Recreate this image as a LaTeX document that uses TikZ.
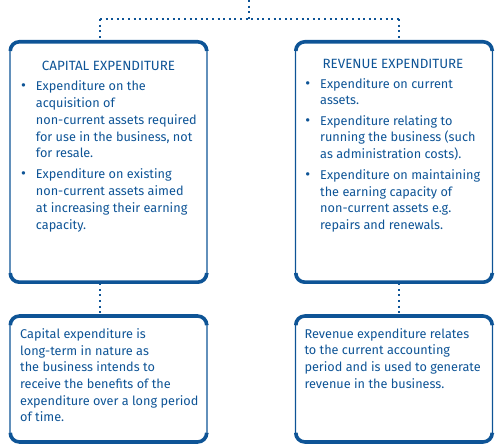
\documentclass[tikz,border=0pt]{standalone}
\usepackage{fontspec}
\setmainfont{Fira Sans}
\usetikzlibrary{positioning}

\definecolor{acblue}{RGB}{14,84,150}

\tikzset{
  expbox/.style={draw=acblue, line width=1.4pt, rounded corners=9pt, minimum width=197pt, inner sep=0pt},
  thickedge/.style={draw=acblue, line width=3.6pt, rounded corners=9pt},
  dotline/.style={draw=acblue, line width=2pt, dash pattern=on 2pt off 3.6pt},
  bodytext/.style={text=acblue, align=left, inner sep=0pt, font=\fontsize{12.7}{16.7}\selectfont},
  titletext/.style={bodytext, font=\fontsize{13.4}{16.7}\selectfont},
}
% bullet hanging left of an item
\newcommand\itembul{\llap{{\fontsize{15}{16.7}\selectfont\textbullet}\hspace{10pt}}}
% heavy top and bottom edge of a box
\newcommand\heavyedges[1]{%
  \draw[thickedge] ([shift={(1pt,-9pt)}]#1.north west) |- ([yshift=-1pt]#1.north) -| ([shift={(-1pt,-9pt)}]#1.north east);
  \draw[thickedge] ([shift={(1pt,9pt)}]#1.south west) |- ([yshift=1pt]#1.south) -| ([shift={(-1pt,9pt)}]#1.south east);
}

\begin{document}
\begin{tikzpicture}[x=1pt,y=1pt]
	\useasboundingbox (0,0) rectangle (500,444);
	
	% boxes
	\node[expbox, minimum height=241pt] (capital) at (108.5,282) {};
	\node[expbox, minimum height=241pt] (revenue) at (394,282) {};
	\node[expbox, minimum height=126.5pt] (capnote) at (108.5,65) {};
	\node[expbox, minimum height=126.5pt] (revnote) at (394,65) {};
	\heavyedges{capital}
	\heavyedges{revenue}
	\heavyedges{capnote}
	\heavyedges{revnote}
	
	% dotted links
	\coordinate (root) at (249,444);
	\coordinate (split) at (249,425);
	\coordinate (capjoin) at (100,425);
	\coordinate (revjoin) at (399,425);
	\draw[dotline] (root) -- (split);
	\draw[dotline] (capjoin) -- (revjoin);
	\draw[dotline] (capjoin) -- (capjoin |- capital.north);
	\draw[dotline] (revjoin) -- (revjoin |- revenue.north);
	\draw[dotline] (capjoin |- capital.south) -- (capjoin |- capnote.north);
	\draw[dotline] (revjoin |- revenue.south) -- (revjoin |- revnote.north);
	
	% capital expenditure (base = last line)
	\node[titletext, anchor=base] (captitle) at (108.5,373.3) {CAPITAL EXPENDITURE};
	\node[bodytext, anchor=base west] (capa) at (35.7,286.2) {\itembul Expenditure on the\\acquisition of\\non-current assets required\\for use in the business, not\\for resale.};
	\node[bodytext, anchor=base west] (capb) at (35.7,214.9) {\itembul Expenditure on existing\\non-current assets aimed\\at increasing their earning\\capacity.};
	
	% revenue expenditure
	\node[titletext, anchor=base] (revtitle) at (393,375.7) {REVENUE EXPENDITURE};
	\node[bodytext, anchor=base west] (reva) at (320,339) {\itembul Expenditure on current\\assets.};
	\node[bodytext, anchor=base west] (revb) at (320,285.3) {\itembul Expenditure relating to\\running the business (such\\as administration costs).};
	\node[bodytext, anchor=base west] (revc) at (320,214.3) {\itembul Expenditure on maintaining\\the earning capacity of\\non-current assets e.g.\\repairs and renewals.};
	
	% notes
	\node[bodytext, anchor=base west] (captext) at (20,22.2) {Capital expenditure is\\long-term in nature as\\the business intends to\\receive the benefits of the\\expenditure over a long period\\of time.};
	\node[bodytext, anchor=base west] (revtext) at (304.3,55.6) {Revenue expenditure relates\\to the current accounting\\period and is used to generate\\revenue in the business.};
\end{tikzpicture}
\end{document}
